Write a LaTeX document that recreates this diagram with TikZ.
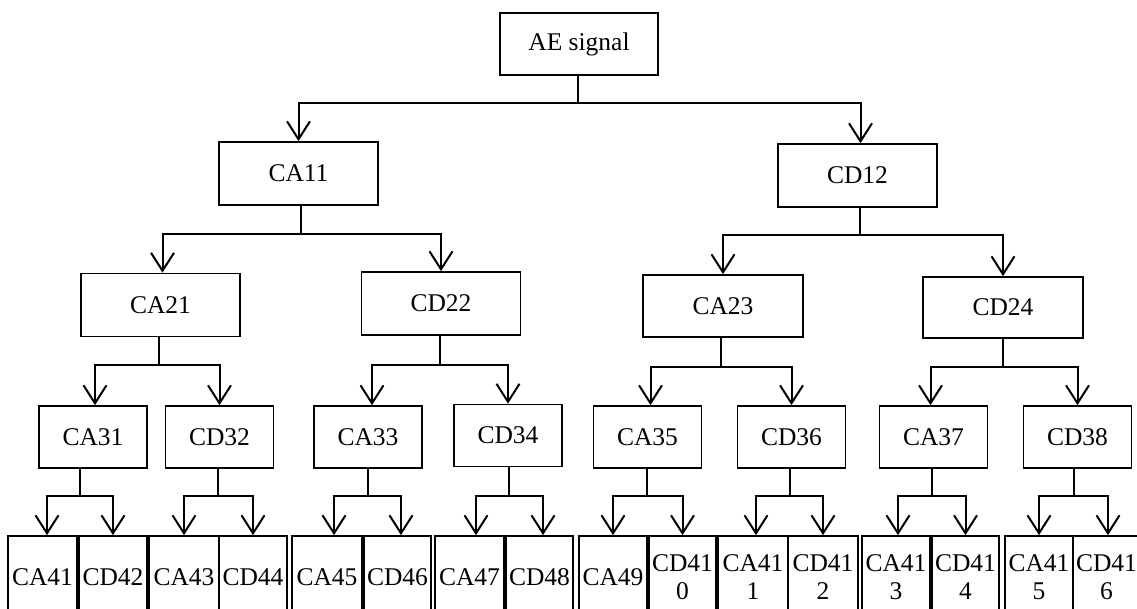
\documentclass[tikz,border=0pt]{standalone}
\usepackage{fontspec}
\setmainfont{Liberation Serif}
\usetikzlibrary{arrows.meta}
\begin{document}
\begin{tikzpicture}[x=1pt,y=-1pt,
  box/.style={draw, line width=1.7pt, inner sep=0pt, align=center, font=\fontsize{25.5}{28}\selectfont},
  lvlone/.style={box, minimum width=159pt, minimum height=63pt},
  lvlthree/.style={box, minimum width=108pt, minimum height=62pt},
  leaf/.style={box, minimum height=82pt, minimum width=#1},
  conn/.style={line width=2pt},
  arr/.style={conn, -{Straight Barb[length=18pt,width=23pt]}}]
\useasboundingbox (0,0) rectangle (1137,609);
\clip (0,0) rectangle (1137,609);
% level 0
\node[box, minimum width=158pt, minimum height=62pt] (ae) at (579,44) {AE signal};
% level 1
\node[lvlone] (ca11) at (298.5,173.5) {CA11};
\node[lvlone] (cd12) at (857.5,175.5) {CD12};
% level 2
\node[lvlone] (ca21) at (160.5,305) {CA21};
\node[lvlone] (cd22) at (441,303.5) {CD22};
\node[lvlone, minimum width=160pt, minimum height=62pt] (ca23) at (723,306) {CA23};
\node[lvlone, minimum width=160pt, minimum height=61pt] (cd24) at (1003,307.5) {CD24};
% level 3
\node[lvlthree] (ca31) at (93,437) {CA31};
\node[lvlthree] (cd32) at (219.5,437) {CD32};
\node[lvlthree] (ca33) at (368,437) {CA33};
\node[lvlthree] (cd34) at (508,435.5) {CD34};
\node[lvlthree] (ca35) at (647.5,437) {CA35};
\node[lvlthree] (cd36) at (791.5,437) {CD36};
\node[lvlthree] (ca37) at (933.5,437) {CA37};
\node[lvlthree] (cd38) at (1077.5,437) {CD38};
% level 4
\node[leaf=69pt] (ca41) at (42.5,577) {CA41};
\node[leaf=68pt] (cd42) at (113,577) {CD42};
\node[leaf=70pt] (ca43) at (184,577) {CA43};
\node[leaf=68pt] (cd44) at (253,577) {CD44};
\node[leaf=70pt] (ca45) at (327,577) {CA45};
\node[leaf=67pt] (cd46) at (397.5,577) {CD46};
\node[leaf=69pt] (ca47) at (469.5,577) {CA47};
\node[leaf=67pt] (cd48) at (539.5,577) {CD48};
\node[leaf=68pt] (ca49) at (613,577) {CA49};
\node[leaf=67pt] (cd410) at (682.5,577) {CD41\\0};
\node[leaf=70pt] (ca411) at (753,577) {CA41\\1};
\node[leaf=70pt] (cd412) at (823,577) {CD41\\2};
\node[leaf=68pt] (ca413) at (896,577) {CA41\\3};
\node[leaf=67pt] (cd414) at (965.5,577) {CD41\\4};
\node[leaf=68pt] (ca415) at (1039,577) {CA41\\5};
\node[leaf=67pt] (cd416) at (1106.5,577) {CD41\\6};
% branch points
\coordinate (b0) at (578,103);
\coordinate (b11) at (301,234);
\coordinate (b12) at (860,235);
\coordinate (b21) at (159,365);
\coordinate (b22) at (440,365);
\coordinate (b23) at (721,367);
\coordinate (b24) at (1003,367);
\coordinate (b31) at (80,496);
\coordinate (b32) at (218,496);
\coordinate (b33) at (368,496);
\coordinate (b34) at (509,496);
\coordinate (b35) at (647,496);
\coordinate (b36) at (790,496);
\coordinate (b37) at (932,496);
\coordinate (b38) at (1074,496);
% connectors
\draw[conn] (ae.south -| b0) -- (b0);
\draw[arr] (b0) -| (ca11.north);
\draw[arr] (b0) -| ([xshift=3pt]cd12.north);
\draw[conn] (ca11.south -| b11) -- (b11);
\draw[arr] (b11) -| ([xshift=2pt]ca21.north);
\draw[arr] (b11) -| (cd22.north);
\draw[conn] (cd12.south -| b12) -- (b12);
\draw[arr] (b12) -| (ca23.north);
\draw[arr] (b12) -| (cd24.north);
\draw[conn] (ca21.south -| b21) -- (b21);
\draw[arr] (b21) -| ([xshift=2pt]ca31.north);
\draw[arr] (b21) -| (cd32.north);
\draw[conn] (cd22.south -| b22) -- (b22);
\draw[arr] (b22) -| ([xshift=4pt]ca33.north);
\draw[arr] (b22) -| (cd34.north);
\draw[conn] (ca23.south -| b23) -- (b23);
\draw[arr] (b23) -| ([xshift=3pt]ca35.north);
\draw[arr] (b23) -| (cd36.north);
\draw[conn] (cd24.south -| b24) -- (b24);
\draw[arr] (b24) -| ([xshift=-3pt]ca37.north);
\draw[arr] (b24) -| (cd38.north);
\draw[conn] (ca31.south -| b31) -- (b31);
\draw[arr] (b31) -| ([xshift=4.5pt]ca41.north);
\draw[arr] (b31) -| (cd42.north);
\draw[conn] (cd32.south -| b32) -- (b32);
\draw[arr] (b32) -| (ca43.north);
\draw[arr] (b32) -| (cd44.north);
\draw[conn] (ca33.south -| b33) -- (b33);
\draw[arr] (b33) -| ([xshift=7pt]ca45.north);
\draw[arr] (b33) -| ([xshift=3.5pt]cd46.north);
\draw[conn] (cd34.south -| b34) -- (b34);
\draw[arr] (b34) -| ([xshift=6.5pt]ca47.north);
\draw[arr] (b34) -| ([xshift=3.5pt]cd48.north);
\draw[conn] (ca35.south -| b35) -- (b35);
\draw[arr] (b35) -| (ca49.north);
\draw[arr] (b35) -| (cd410.north);
\draw[conn] (cd36.south -| b36) -- (b36);
\draw[arr] (b36) -| ([xshift=3pt]ca411.north);
\draw[arr] (b36) -| (cd412.north);
\draw[conn] (ca37.south -| b37) -- (b37);
\draw[arr] (b37) -| ([xshift=2pt]ca413.north);
\draw[arr] (b37) -| (cd414.north);
\draw[conn] (cd38.south -| b38) -- (b38);
\draw[arr] (b38) -| (ca415.north);
\draw[arr] (b38) -| ([xshift=1.5pt]cd416.north);
\end{tikzpicture}
\end{document}
